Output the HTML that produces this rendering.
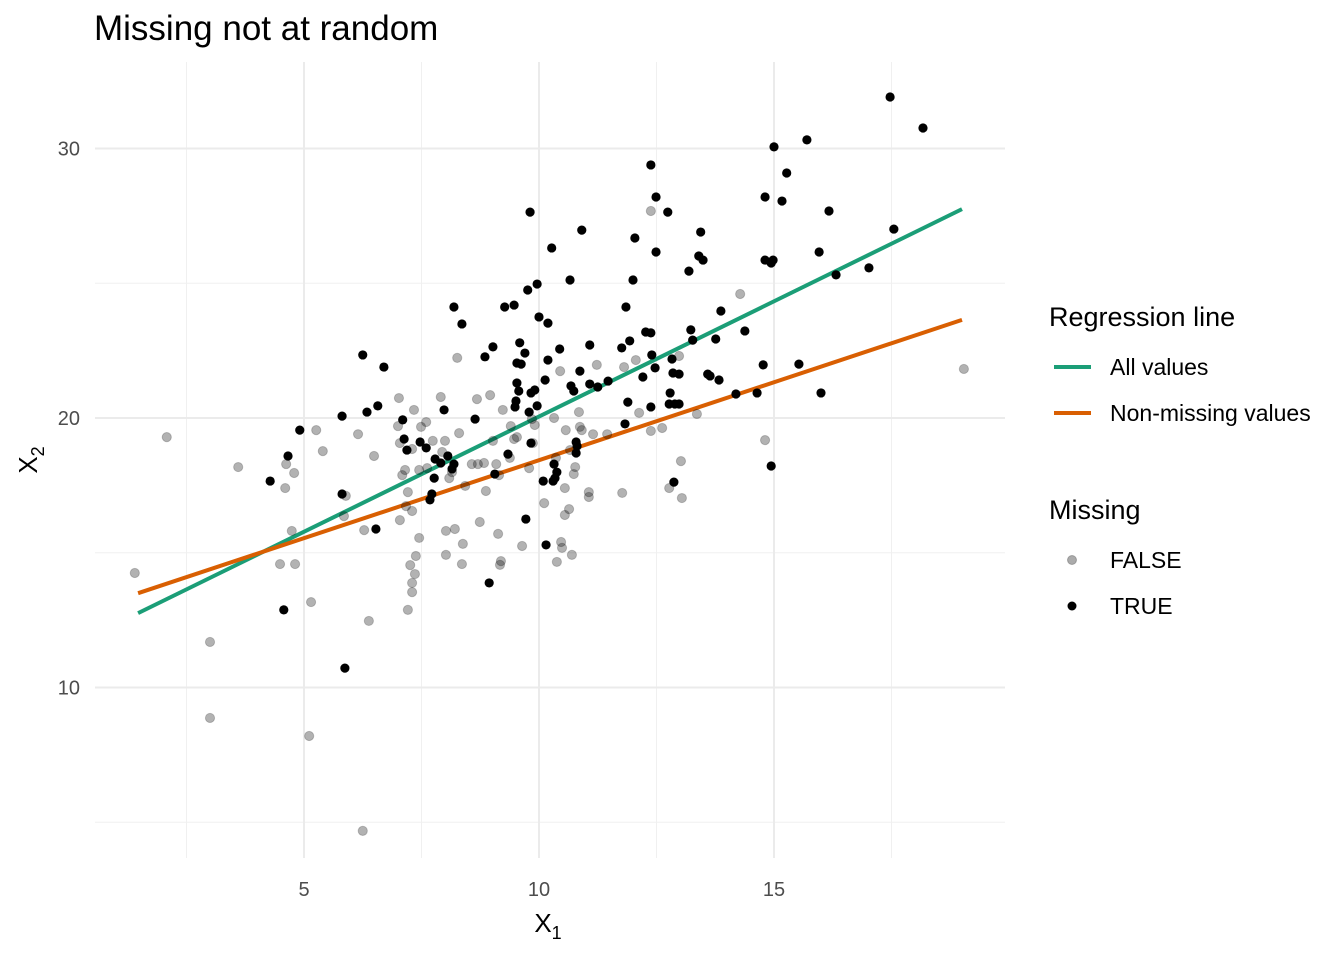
<!DOCTYPE html>
<html><head><meta charset="utf-8"><style>
body{margin:0;background:#fff;}
svg{display:block;font-family:"Liberation Sans",Arial,sans-serif;}
</style></head><body>
<svg id="chart" width="1344" height="960" viewBox="0 0 1344 960">
<text x="94" y="40" font-size="35" fill="#000">Missing not at random</text>
<g id="grid"></g>
<g id="lines"></g>
<g id="pts"></g>
<g id="axes"></g>
<text x="548" y="932" font-size="26" text-anchor="middle">X<tspan font-size="18" dy="7">1</tspan></text>
<text transform="translate(37,460) rotate(-90)" font-size="26" text-anchor="middle">X<tspan font-size="18" dy="7">2</tspan></text>
<g>
<text x="1049" y="326" font-size="27">Regression line</text>
<g><line x1="1054" y1="367" x2="1091" y2="367" stroke="#1b9e77" stroke-width="4"/><text x="1110" y="375" font-size="23">All values</text></g>
<g><line x1="1054" y1="413" x2="1091" y2="413" stroke="#d95f02" stroke-width="4"/><text x="1110" y="421" font-size="23">Non-missing values</text></g>
</g>
<g>
<text x="1049" y="519" font-size="27">Missing</text>
<g><circle cx="1072" cy="560" r="4.5" fill="rgba(0,0,0,0.33)" stroke="rgba(0,0,0,0.25)"/><text x="1110" y="568" font-size="23">FALSE</text></g>
<g><circle cx="1072" cy="606" r="4.5" fill="#000"/><text x="1110" y="614" font-size="23">TRUE</text></g>
</g>
</svg>
<script>
const xTicks=[5,10,15];
const yTicks=[10,20,30];
const xMinor=[2.5,7.5,12.5,17.5];
const yMinor=[5,15,25];
const falseX=[1.40,2.08,3.60,3.00,3.00,4.62,4.60,4.79,4.74,4.49,4.81,5.11,5.15,5.26,5.40,5.89,5.85,6.15,6.28,6.38,6.49,6.25,7.02,7.00,7.04,7.09,7.15,7.34,7.49,7.30,7.04,7.17,7.21,7.26,7.30,7.38,7.45,7.45,7.30,7.30,7.21,7.36,7.62,7.60,7.74,7.91,7.94,8.00,8.09,8.15,8.02,8.02,8.21,8.26,8.30,8.38,8.36,8.43,8.57,8.68,8.70,8.74,8.83,8.87,8.96,9.02,9.09,9.15,9.17,9.13,9.19,9.23,9.38,9.40,9.47,9.53,9.64,9.79,9.85,9.87,9.91,10.11,10.32,10.36,10.38,10.45,10.47,10.49,10.55,10.55,10.64,10.57,10.66,10.74,10.70,10.77,10.85,10.87,10.91,11.06,11.06,11.15,11.23,11.45,11.77,11.81,12.06,12.13,12.38,12.38,12.62,12.77,13.04,13.02,12.98,13.36,14.28,14.81,19.04];
const falseY=[14.25,19.29,18.18,11.69,8.87,18.29,17.40,17.96,15.81,14.58,14.58,8.20,13.17,19.55,18.77,17.11,16.36,19.40,15.84,12.47,18.59,4.68,20.74,19.70,19.07,17.88,18.07,20.30,19.67,18.85,16.21,16.73,17.25,14.54,13.88,14.88,15.55,18.07,16.55,13.54,12.88,14.21,18.14,19.85,19.15,20.78,18.74,19.15,17.77,17.99,15.81,14.92,15.88,22.23,19.44,15.33,14.58,17.48,18.29,20.70,18.29,16.14,18.33,17.29,20.85,19.15,18.29,17.88,14.55,15.70,14.69,20.30,18.52,19.70,19.22,19.29,15.25,18.14,19.96,19.07,19.74,16.84,20.00,18.52,14.66,21.74,15.40,15.18,16.40,17.40,16.62,19.55,18.81,17.92,14.92,18.18,20.22,19.67,19.55,17.25,17.07,19.40,21.97,19.40,17.22,21.89,22.15,20.19,27.68,19.52,19.63,17.40,17.03,18.40,22.30,20.15,24.60,19.18,21.82];
const trueX=[17.47,18.17,15.70,15.00,12.38,15.27,12.49,14.81,15.17,9.81,12.74,16.17,17.55,10.91,13.44,12.04,10.27,12.49,13.40,13.49,14.81,14.98,14.94,13.19,17.02,15.96,16.32,10.66,12.00,9.76,9.96,8.19,9.27,9.47,11.85,10.00,10.19,13.87,8.36,13.23,14.38,12.27,12.38,11.08,9.02,9.59,10.44,13.27,13.76,11.76,11.93,6.25,6.70,8.85,9.70,9.53,10.19,9.62,10.87,12.40,12.83,12.47,12.21,12.85,11.47,12.98,13.59,13.64,13.83,9.53,10.13,10.68,10.74,11.08,11.25,12.79,12.77,9.57,9.83,9.91,9.51,9.96,9.79,9.49,14.77,15.53,14.19,14.64,11.89,12.89,12.38,12.98,16.00,5.81,6.34,6.57,7.10,7.98,8.64,7.13,7.47,7.60,7.19,4.91,4.66,7.79,7.91,8.06,8.19,8.15,7.77,9.06,9.34,9.83,10.79,10.81,10.79,11.83,10.32,10.38,10.34,10.09,10.30,4.28,5.81,7.72,7.68,9.72,6.53,10.15,12.87,14.94,8.94,4.57,5.87];
const trueY=[31.91,30.76,30.32,30.06,29.39,29.09,28.20,28.20,28.05,27.64,27.64,27.68,27.01,26.97,26.90,26.68,26.31,26.16,26.01,25.86,25.86,25.86,25.75,25.45,25.57,26.16,25.31,25.12,25.12,24.75,24.97,24.12,24.12,24.19,24.12,23.75,23.52,23.97,23.49,23.27,23.23,23.19,23.16,22.71,22.64,22.79,22.56,22.89,22.93,22.60,22.86,22.34,21.89,22.27,22.41,22.04,22.15,22.00,21.74,22.34,22.19,21.86,21.52,21.67,21.37,21.63,21.63,21.56,21.41,21.30,21.41,21.19,21.00,21.26,21.15,20.93,20.52,21.00,20.93,21.04,20.63,20.45,20.22,20.41,21.97,22.00,20.89,20.93,20.59,20.52,20.41,20.52,20.93,20.07,20.22,20.45,19.93,20.30,19.96,19.22,19.11,18.89,18.81,19.55,18.59,18.48,18.33,18.59,18.29,18.11,17.77,17.92,18.66,19.07,19.11,18.96,18.70,19.78,18.29,17.99,17.77,17.66,17.66,17.66,17.18,17.18,16.96,16.25,15.88,15.29,17.62,18.22,13.88,12.88,10.72];
const lineX=[1.47,19.0];
const allY=[12.76,27.75];
const nonMissY=[13.5,23.64];

const NS="http://www.w3.org/2000/svg";
const sx=v=>304+(v-5)*47;
const sy=v=>418-(v-20)*26.95;
const PL=95,PR=1005,PT=62,PB=858;
function mk(tag,attrs,parent){const e=document.createElementNS(NS,tag);for(const k in attrs)e.setAttribute(k,attrs[k]);parent.appendChild(e);return e;}
const grid=document.getElementById('grid'),axes=document.getElementById('axes');
xMinor.forEach(v=>{const l=mk('line',{x1:sx(v),x2:sx(v),y1:PT,y2:PB,stroke:'#f0f0f0','stroke-width':1},grid);

});
yMinor.forEach(v=>{const l=mk('line',{x1:PL,x2:PR,y1:sy(v),y2:sy(v),stroke:'#f0f0f0','stroke-width':1},grid);

});
xTicks.forEach(v=>{const l=mk('line',{x1:sx(v),x2:sx(v),y1:PT,y2:PB,stroke:'#ebebeb','stroke-width':2},grid);


const t=mk('text',{x:sx(v),y:896,'font-size':20,fill:'#4d4d4d','text-anchor':'middle'},axes);t.textContent=v;

});
yTicks.forEach(v=>{const l=mk('line',{x1:PL,x2:PR,y1:sy(v),y2:sy(v),stroke:'#ebebeb','stroke-width':2},grid);


const t=mk('text',{x:80,y:sy(v)+7,'font-size':20,fill:'#4d4d4d','text-anchor':'end'},axes);t.textContent=v;

});
const pts=document.getElementById('pts');
falseX.forEach((v,i)=>{const c=mk('circle',{cx:sx(v),cy:sy(falseY[i]),r:4.6,fill:'rgba(0,0,0,0.3)',stroke:'rgba(0,0,0,0.2)','stroke-width':1},pts);

});
trueX.forEach((v,i)=>{const c=mk('circle',{cx:sx(v),cy:sy(trueY[i]),r:4.6,fill:'#000'},pts);

});
const lines=document.getElementById('lines');
const g1=mk('line',{x1:sx(lineX[0]),y1:sy(allY[0]),x2:sx(lineX[1]),y2:sy(allY[1]),stroke:'#1b9e77','stroke-width':4},lines);


const g2=mk('line',{x1:sx(lineX[0]),y1:sy(nonMissY[0]),x2:sx(lineX[1]),y2:sy(nonMissY[1]),stroke:'#d95f02','stroke-width':4},lines);


</script>
</body></html>
